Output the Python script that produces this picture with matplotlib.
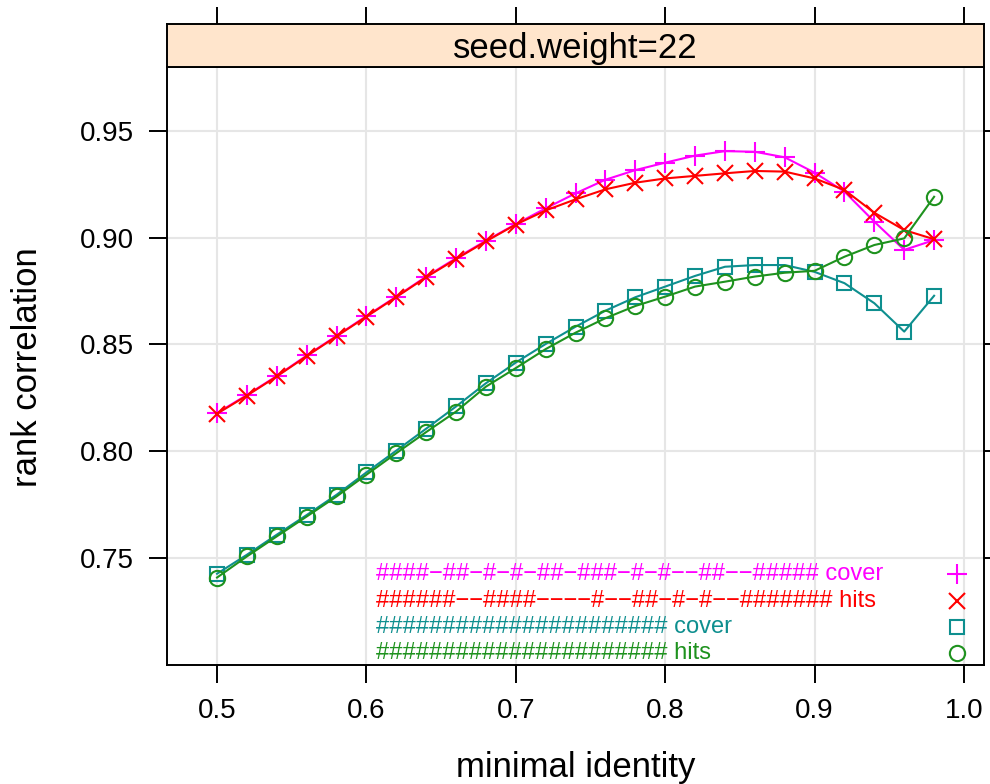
import matplotlib
matplotlib.use("Agg")
import matplotlib.pyplot as plt

plt.rcParams['font.family'] = ['Liberation Sans', 'DejaVu Sans']

# ---- data ----
identity = [0.50, 0.52, 0.54, 0.56, 0.58, 0.60, 0.62, 0.64, 0.66, 0.68,
            0.70, 0.72, 0.74, 0.76, 0.78, 0.80, 0.82, 0.84, 0.86, 0.88,
            0.90, 0.92, 0.94, 0.96, 0.98]

cover_a = [0.8178, 0.8263, 0.8352, 0.8448, 0.8540, 0.8633, 0.8724, 0.8818, 0.8904, 0.8986,
           0.9064, 0.9138, 0.9208, 0.9272, 0.9317, 0.9352, 0.9385, 0.9406, 0.9403, 0.9377,
           0.9305, 0.9216, 0.9075, 0.8943, 0.8989]
hits_a = [0.8175, 0.8260, 0.8350, 0.8445, 0.8538, 0.8630, 0.8722, 0.8815, 0.8900, 0.8983,
          0.9062, 0.9128, 0.9180, 0.9227, 0.9258, 0.9278, 0.9290, 0.9302, 0.9313, 0.9310,
          0.9278, 0.9224, 0.9117, 0.9036, 0.8993]
cover_b = [0.7425, 0.7514, 0.7608, 0.7700, 0.7795, 0.7900, 0.8002, 0.8105, 0.8209, 0.8318,
           0.8415, 0.8502, 0.8583, 0.8658, 0.8721, 0.8771, 0.8821, 0.8864, 0.8872, 0.8872,
           0.8840, 0.8787, 0.8693, 0.8560, 0.8728]
hits_b = [0.7407, 0.7506, 0.7600, 0.7693, 0.7787, 0.7889, 0.7990, 0.8089, 0.8185, 0.8302,
          0.8389, 0.8478, 0.8555, 0.8623, 0.8680, 0.8724, 0.8771, 0.8794, 0.8818, 0.8836,
          0.8845, 0.8911, 0.8966, 0.8997, 0.9192]

x_ticks = [0.5, 0.6, 0.7, 0.8, 0.9, 1.0]
x_ticklabels = ["0.5", "0.6", "0.7", "0.8", "0.9", "1.0"]
y_ticks = [0.75, 0.80, 0.85, 0.90, 0.95]
y_ticklabels = ["0.75", "0.80", "0.85", "0.90", "0.95"]

legend_texts = [
    "####\u2212##\u2212#\u2212#\u2212##\u2212###\u2212#\u2212#\u2212\u2212##\u2212\u2212##### cover",
    "######\u2212\u2212####\u2212\u2212\u2212\u2212#\u2212\u2212##\u2212#\u2212#\u2212\u2212####### hits",
    "###################### cover",
    "###################### hits",
]

strip_label = "seed.weight=22"
x_label = "minimal identity"
y_label = "rank correlation"

# ---- styles ----
c_mag = "#FF00FF"
c_red = "#FF0000"
c_teal = "#0E8F8F"
c_green = "#1E921E"

series = [
    (cover_a, c_mag, '+', 15.0),
    (hits_a, c_red, 'x', 12.0),
    (cover_b, c_teal, 's', 10.3),
    (hits_b, c_green, 'o', 11.0),
]

W, H = 990, 784
fig = plt.figure(figsize=(W / 100, H / 100), dpi=100)

left, right, bottom, top = 167, 984, 665, 67.3
strip_top = 24.3
ax = fig.add_axes([left / W, 1 - bottom / H, (right - left) / W, (bottom - top) / H])
sax = fig.add_axes([left / W, 1 - top / H, (right - left) / W, (top - strip_top) / H])

xlim = (0.4665, 1.0134)
ylim = (0.6997, 0.9799)

for vals, col, mk, ms in series:
    ax.plot(identity, vals, color=col, lw=1.5, marker=mk, ms=ms,
            mfc='none', mec=col, mew=1.5, zorder=3)

ax.set_xlim(*xlim)
ax.set_ylim(*ylim)
ax.set_xticks(x_ticks)
ax.set_xticklabels(x_ticklabels)
ax.set_yticks(y_ticks)
ax.set_yticklabels(y_ticklabels)
ax.grid(True, color='#E6E6E6', lw=1.5)
ax.set_axisbelow(True)
ax.tick_params(direction='out', length=13, width=1.4, labelsize=20, pad=11,
               right=True, labelright=False, top=False, colors='black')
for sp in ax.spines.values():
    sp.set_linewidth(1.4)
    sp.set_color('black')

# legend inside panel
leg_x = (376 - left) / (right - left)
mk_x = (957 - left) / (right - left)
leg_rows = [574, 601, 627, 653]
for (vals, col, mk, ms), txt, ry in zip(series, legend_texts, leg_rows):
    yf = (bottom - ry) / (bottom - top)
    ax.text(leg_x, yf, txt, color=col, fontsize=17, va='center', ha='left',
            transform=ax.transAxes, zorder=4)
    ax.plot([mk_x], [yf], transform=ax.transAxes, marker=mk, ms=ms, mfc='none',
            mec=col, mew=1.5, ls='none', clip_on=False, zorder=4)

# strip
sax.set_facecolor('#FFE5CC')
sax.set_xlim(*xlim)
sax.set_xticks(x_ticks)
sax.set_yticks([])
sax.tick_params(axis='x', top=True, bottom=False, labeltop=False, labelbottom=False,
                direction='out', length=12.3, width=1.4)
for sp in sax.spines.values():
    sp.set_linewidth(1.4)
    sp.set_color('black')
sax.text(0.5, (top - 58) / (top - strip_top), strip_label, ha='center', va='baseline',
         fontsize=25, transform=sax.transAxes)

fig.text(575.5 / W, 1 - 777 / H, x_label, ha='center', va='baseline', fontsize=25)
fig.text(28 / W, 1 - 367 / H, y_label, ha='center', va='center', rotation=90, fontsize=25)

fig.savefig("out.png", dpi=100, facecolor='white')
